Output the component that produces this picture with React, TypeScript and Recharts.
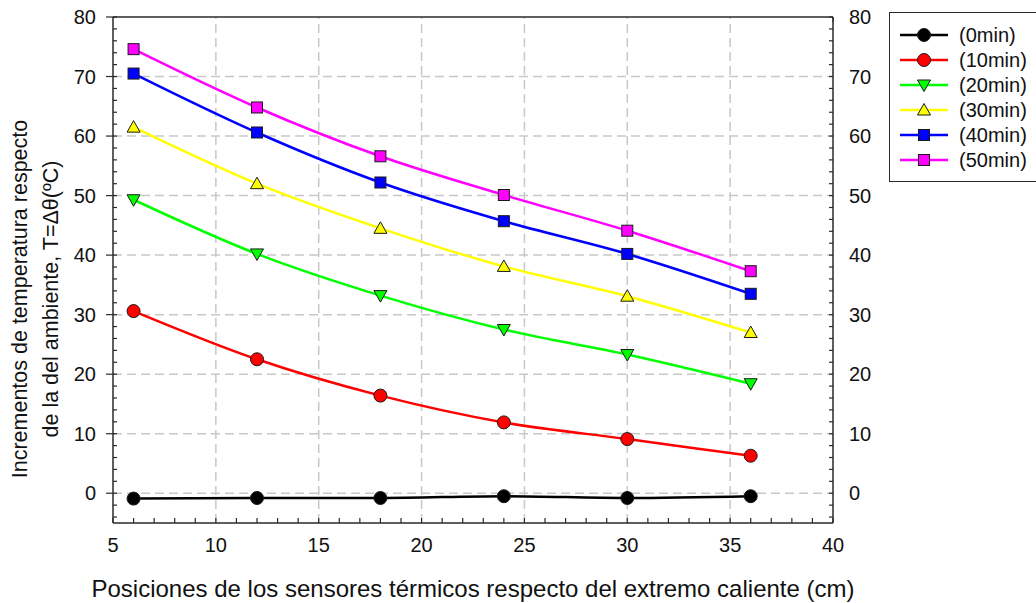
import React from "react";
import { LineChart, Line, XAxis, YAxis, ReferenceLine } from "recharts";

// sensor positions (cm) and temperature rise per time
const positions = [6, 12, 18, 24, 30, 36];
const t0 = [-0.9, -0.8, -0.8, -0.5, -0.8, -0.5];
const t10 = [30.6, 22.5, 16.4, 11.9, 9.1, 6.3];
const t20 = [49.3, 40.2, 33.2, 27.5, 23.3, 18.4];
const t30 = [61.5, 52.0, 44.5, 38.1, 33.1, 27.0];
const t40 = [70.5, 60.6, 52.2, 45.7, 40.2, 33.5];
const t50 = [74.6, 64.8, 56.6, 50.1, 44.1, 37.3];

const xLabels = [5, 10, 15, 20, 25, 30, 35, 40];
const yLabels = [0, 10, 20, 30, 40, 50, 60, 70, 80];
const xGrid = [10, 15, 20, 25, 30, 35];
const yGrid = [0, 10, 20, 30, 40, 50, 60, 70];
const xMinor = Array.from({ length: 36 }, (_, i) => 5 + i);
const yMinor = Array.from({ length: 43 }, (_, i) => -4 + i * 2);

const series = [
  { key: "t0", name: "(0min)", color: "#000000", shape: "circle" },
  { key: "t10", name: "(10min)", color: "#ff0000", shape: "circle" },
  { key: "t20", name: "(20min)", color: "#00ff00", shape: "down" },
  { key: "t30", name: "(30min)", color: "#ffff00", shape: "up" },
  { key: "t40", name: "(40min)", color: "#0000ff", shape: "square" },
  { key: "t50", name: "(50min)", color: "#ff00ff", shape: "square" },
];

const rows = positions.map((x, i) => ({
  x,
  t0: t0[i],
  t10: t10[i],
  t20: t20[i],
  t30: t30[i],
  t40: t40[i],
  t50: t50[i],
}));

const FONT = '"Liberation Sans", Arial, sans-serif';
const AXIS = "#2a2a2a";
const GRID = "#c8c8c8";
const TICK_FONT = 20;

const Marker = ({ cx, cy, shape, fill }: any) => {
  if (cx == null || cy == null) return null;
  const s = "#1a1a1a";
  if (shape === "circle")
    return <circle cx={cx} cy={cy} r={6.5} fill={fill} stroke={s} strokeWidth={1} />;
  if (shape === "down")
    return (
      <polygon
        points={`${cx - 6.5},${cy - 5} ${cx + 6.5},${cy - 5} ${cx},${cy + 6.5}`}
        fill={fill}
        stroke={s}
        strokeWidth={1}
      />
    );
  if (shape === "up")
    return (
      <polygon
        points={`${cx - 6.5},${cy + 5} ${cx + 6.5},${cy + 5} ${cx},${cy - 6.5}`}
        fill={fill}
        stroke={s}
        strokeWidth={1}
      />
    );
  return (
    <rect x={cx - 5.5} y={cy - 5.5} width={11} height={11} fill={fill} stroke={s} strokeWidth={1} />
  );
};

const BottomTick = ({ x, y, payload }: any) => (
  <g>
    <line x1={x} y1={y} x2={x} y2={y - 5} stroke={AXIS} strokeWidth={1.2} />
    {xLabels.includes(payload.value) && (
      <text x={x} y={y + 29} textAnchor="middle" fontSize={TICK_FONT} fill="#111" fontFamily={FONT}>
        {payload.value}
      </text>
    )}
  </g>
);

const TopTick = ({ x, y }: any) => (
  <line x1={x} y1={y} x2={x} y2={y + 5} stroke={AXIS} strokeWidth={1.2} />
);

const LeftTick = ({ x, y, payload }: any) => {
  const major = yLabels.includes(payload.value);
  return (
    <g>
      <line x1={major ? x - 7 : x} y1={y} x2={x + 4} y2={y} stroke={AXIS} strokeWidth={1.2} />
      {major && (
        <text x={x - 17} y={y} dy="0.35em" textAnchor="end" fontSize={TICK_FONT} fill="#111" fontFamily={FONT}>
          {payload.value}
        </text>
      )}
    </g>
  );
};

const RightTick = ({ x, y, payload }: any) => {
  const major = yLabels.includes(payload.value);
  return (
    <g>
      <line x1={x - 4} y1={y} x2={x} y2={y} stroke={AXIS} strokeWidth={1.2} />
      {major && (
        <text x={x + 16} y={y} dy="0.35em" textAnchor="start" fontSize={TICK_FONT} fill="#111" fontFamily={FONT}>
          {payload.value}
        </text>
      )}
    </g>
  );
};

const YTitle = () => (
  <g fontFamily={FONT} fontSize={21.5} fill="#111">
    <text transform="translate(27,299) rotate(-90)" textAnchor="middle">
      Incrementos de temperatura respecto
    </text>
    <text transform="translate(58,299) rotate(-90)" textAnchor="middle">
      de la del ambiente, T=Δθ(ºC)
    </text>
  </g>
);

const LegendBox = () => (
  <div
    style={{
      position: "absolute",
      left: 889,
      top: 12,
      width: 170,
      height: 170,
      border: `1px solid ${AXIS}`,
      boxSizing: "border-box",
      background: "#fff",
    }}
  >
    <svg width={170} height={168}>
      {series.map((s, i) => {
        const cy = 22 + i * 25;
        return (
          <g key={s.key}>
            <line x1={10} y1={cy} x2={58} y2={cy} stroke={s.color} strokeWidth={2.5} />
            <Marker cx={34} cy={cy} shape={s.shape} fill={s.color} />
            <text x={69} y={cy} dy="0.35em" fontSize={TICK_FONT} fontFamily={FONT} fill="#111">
              {s.name}
            </text>
          </g>
        );
      })}
    </svg>
  </div>
);

export default function App() {
  return (
    <div
      style={{
        position: "absolute",
        left: 0,
        top: 0,
        width: 1036,
        height: 603,
        overflow: "hidden",
        background: "#fff",
        fontFamily: FONT,
      }}
    >
      <LineChart width={1036} height={603} data={rows} margin={{ top: 0, right: 0, bottom: 0, left: 0 }}>
        <XAxis
          xAxisId="bottom"
          dataKey="x"
          type="number"
          domain={[5, 40]}
          allowDataOverflow
          ticks={xMinor}
          interval={0}
          height={80}
          tickSize={0}
          tickMargin={0}
          tickLine={false}
          axisLine={{ stroke: AXIS, strokeWidth: 1.5 }}
          tick={<BottomTick />}
          label={{
            value: "Posiciones de los sensores térmicos respecto del extremo caliente (cm)",
            position: "insideBottom",
            offset: 6,
            fontSize: 24,
            fill: "#111",
            fontFamily: FONT,
          }}
        />
        <XAxis
          xAxisId="top"
          orientation="top"
          type="number"
          domain={[5, 40]}
          allowDataOverflow
          ticks={xMinor}
          interval={0}
          height={17}
          tickSize={0}
          tickMargin={0}
          tickLine={false}
          axisLine={{ stroke: AXIS, strokeWidth: 1.5 }}
          tick={<TopTick />}
        />
        <YAxis
          yAxisId="left"
          type="number"
          domain={[-5, 80]}
          allowDataOverflow
          ticks={yMinor}
          interval={0}
          width={113}
          tickSize={0}
          tickMargin={0}
          tickLine={false}
          axisLine={{ stroke: AXIS, strokeWidth: 1.5 }}
          tick={<LeftTick />}
          label={{ content: () => <YTitle /> }}
        />
        <YAxis
          yAxisId="right"
          orientation="right"
          type="number"
          domain={[-5, 80]}
          allowDataOverflow
          ticks={yMinor}
          interval={0}
          width={203}
          tickSize={0}
          tickMargin={0}
          tickLine={false}
          axisLine={{ stroke: AXIS, strokeWidth: 1.5 }}
          tick={<RightTick />}
        />
        {xGrid.map((v) => (
          <ReferenceLine
            key={`gx${v}`}
            x={v}
            xAxisId="bottom"
            yAxisId="left"
            stroke={GRID}
            strokeWidth={1.5}
            strokeDasharray="9 5"
          />
        ))}
        {yGrid.map((v) => (
          <ReferenceLine
            key={`gy${v}`}
            y={v}
            xAxisId="bottom"
            yAxisId="left"
            stroke={GRID}
            strokeWidth={1.5}
            strokeDasharray="9 5"
          />
        ))}
        {series.map((s) => (
          <Line
            key={s.key}
            xAxisId="bottom"
            yAxisId="left"
            dataKey={s.key}
            name={s.name}
            type="monotone"
            stroke={s.color}
            strokeWidth={2.5}
            isAnimationActive={false}
            activeDot={false}
            dot={(p: any) => <Marker key={`${s.key}-${p.index}`} cx={p.cx} cy={p.cy} shape={s.shape} fill={s.color} />}
          />
        ))}
      </LineChart>
      <LegendBox />
    </div>
  );
}
